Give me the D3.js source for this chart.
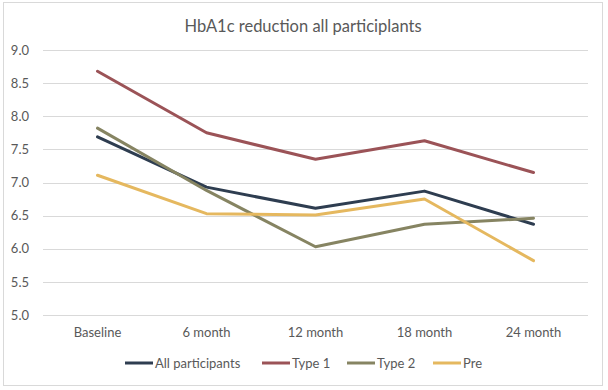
<!DOCTYPE html>
<html>
<head>
<meta charset="utf-8">
<script src="https://cdn.jsdelivr.net/npm/d3@7"></script>
<style>
  body { margin: 0; background: #fff; }
  text { font-family: Lato, "Open Sans", sans-serif; fill: #595959; }
</style>
</head>
<body>
<svg width="608" height="390"></svg>
<script>
// data
var categories = ["Baseline", "6 month", "12 month", "18 month", "24 month"];
var allParticipants = [7.69, 6.93, 6.61, 6.87, 6.37];
var type1 = [8.68, 7.75, 7.35, 7.63, 7.15];
var type2 = [7.82, 6.88, 6.03, 6.37, 6.46];
var pre = [7.11, 6.53, 6.51, 6.75, 5.82];
var yTicks = [5.0, 5.5, 6.0, 6.5, 7.0, 7.5, 8.0, 8.5, 9.0];

var series = [
  {name: "All participants", values: allParticipants, color: "#2e3d50"},
  {name: "Type 1", values: type1, color: "#9b5357"},
  {name: "Type 2", values: type2, color: "#868462"},
  {name: "Pre", values: pre, color: "#e5b85f"}
];

var svg = d3.select("svg");
var margins = {top: 50, right: 20, bottom: 75, left: 43};
var width = 608 - margins.left - margins.right;
var height = 390 - margins.top - margins.bottom;

// chart border
svg.append("rect")
  .attr("x", 3.5).attr("y", 2.5)
  .attr("width", 599).attr("height", 383)
  .attr("fill", "#fff")
  .attr("stroke", "#d9d9d9");

svg.append("text")
  .attr("x", 303)
  .attr("y", 32)
  .attr("text-anchor", "middle")
  .style("font-size", "16.5px")
  .text("HbA1c reduction all participlants");

var g = svg.append("g")
  .attr("transform", "translate(" + margins.left + "," + margins.top + ")");

var x = d3.scaleBand().domain(categories).range([0, width]);
var y = d3.scaleLinear().domain([5, 9]).range([height, 0]);

// gridlines
g.selectAll(".grid")
  .data(yTicks)
  .enter()
  .append("line")
  .attr("x1", 0).attr("x2", width)
  .attr("y1", function(d){ return Math.round(y(d)) + 0.5; })
  .attr("y2", function(d){ return Math.round(y(d)) + 0.5; })
  .attr("stroke", "#d9d9d9")
  .attr("stroke-width", 1);

var yAxis = d3.axisLeft(y).tickValues(yTicks).tickFormat(d3.format(".1f")).tickSize(0).tickPadding(14);
g.append("g").call(yAxis)
  .call(function(a){ a.select(".domain").remove(); })
  .selectAll("text")
  .style("font-size", "13px");

var xAxis = d3.axisBottom(x).tickSize(0).tickPadding(13);
g.append("g")
  .attr("transform", "translate(0," + height + ")")
  .call(xAxis)
  .call(function(a){ a.select(".domain").remove(); })
  .selectAll("text")
  .style("font-size", "13px");

var line = d3.line()
  .x(function(d, i){ return x(categories[i]) + x.bandwidth() / 2; })
  .y(function(d){ return y(d); });

g.selectAll(".series")
  .data(series)
  .enter()
  .append("path")
  .attr("d", function(s){ return line(s.values); })
  .attr("fill", "none")
  .attr("stroke", function(s){ return s.color; })
  .attr("stroke-width", 3)
  .attr("stroke-linejoin", "round")
  .attr("stroke-linecap", "round");

// legend
var legendX = [125, 262, 347, 433];
var legend = svg.selectAll(".legend")
  .data(series)
  .enter()
  .append("g")
  .attr("transform", function(s, i){ return "translate(" + legendX[i] + ",363)"; });

legend.append("line")
  .attr("x1", 0).attr("x2", 28)
  .attr("y1", 0).attr("y2", 0)
  .attr("stroke", function(s){ return s.color; })
  .attr("stroke-width", 3);

legend.append("text")
  .attr("x", 30)
  .attr("y", 4.5)
  .style("font-size", "13px")
  .text(function(s){ return s.name; });
</script>
</body>
</html>
